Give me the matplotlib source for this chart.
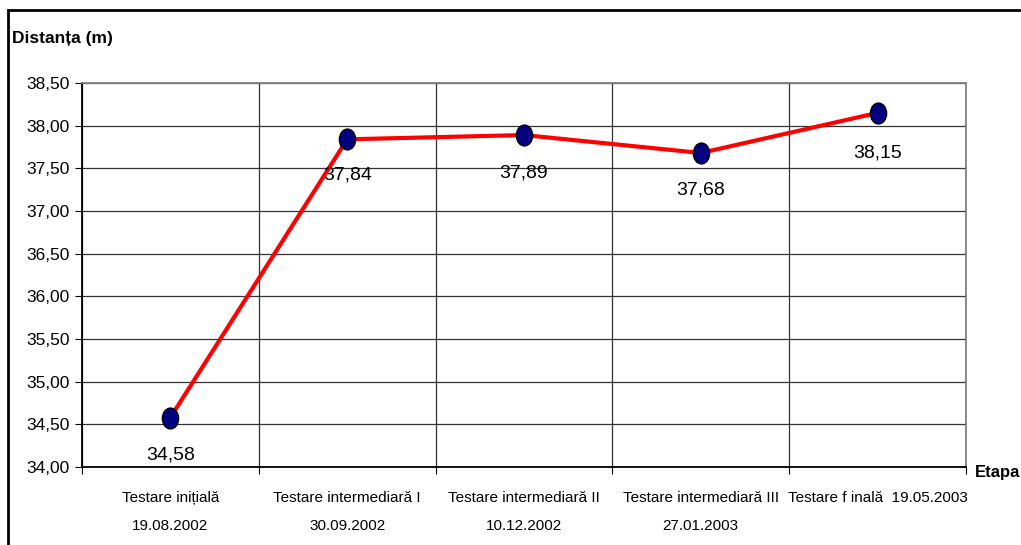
import matplotlib.pyplot as plt
from matplotlib.patches import Rectangle
from matplotlib.path import Path
from matplotlib.ticker import FixedLocator, NullFormatter

plt.rcParams['font.family'] = ['Liberation Sans', 'DejaVu Sans']

# data
stages = ["Testare inițială\n19.08.2002",
          "Testare intermediară I\n30.09.2002",
          "Testare intermediară II\n10.12.2002",
          "Testare intermediară III\n27.01.2003",
          "Testare f inală  19.05.2003"]
distance = [34.58, 37.84, 37.89, 37.68, 38.15]
value_labels = ["34,58", "37,84", "37,89", "37,68", "38,15"]
yticks = [34.0, 34.5, 35.0, 35.5, 36.0, 36.5, 37.0, 37.5, 38.0, 38.5]

W, H = 1021, 545
fig = plt.figure(figsize=(W / 100, H / 100), dpi=100)
ax = fig.add_axes([82 / W, 1 - 467 / H, (966 - 82) / W, (467 - 83) / H])

# outer chart frame
fig.patches.append(Rectangle((8 / W, -0.1), 1.2, 1 - 10 / H + 0.1,
                             transform=fig.transFigure, fill=False,
                             edgecolor="black", linewidth=2))

# slightly tall ellipse marker like the original
uc = Path.unit_circle()
ellipse = Path(uc.vertices * [0.78, 1.0], uc.codes)

x = list(range(len(stages)))
ax.plot(x, distance, color="red", linewidth=3, zorder=3)
ax.plot(x, distance, linestyle="none", marker=ellipse, markersize=15,
        markerfacecolor="#000080", markeredgecolor="black",
        markeredgewidth=1, zorder=4)

# value labels under the points
drops = [27, 26, 27, 27, 29]
for xi, yi, lab, d in zip(x, distance, value_labels, drops):
    ax.annotate(lab, (xi, yi), xytext=(0, -d),
                textcoords="offset points", ha="center", va="center",
                fontsize=14)

ax.set_xlim(-0.5, len(stages) - 0.5)
ax.set_ylim(34.0, 38.5)
ax.set_yticks(yticks)
ax.set_yticklabels([f"{v:.2f}".replace(".", ",") for v in yticks], fontsize=12.5)

# category separators as major ticks, labels at centres
ax.xaxis.set_major_locator(FixedLocator([i - 0.5 for i in range(len(stages) + 1)]))
ax.xaxis.set_major_formatter(NullFormatter())
ax.set_xticks(x, minor=True)
ax.set_xticklabels(stages, minor=True, fontsize=11, linespacing=2.3)
ax.tick_params(axis="x", which="minor", length=0, pad=17)
ax.tick_params(axis="x", which="major", length=5, color="black")
ax.tick_params(axis="y", length=5, color="black", pad=4)

ax.grid(axis="y", color="#333333", linewidth=0.9)
ax.grid(axis="x", which="major", color="#333333", linewidth=0.9)
ax.set_axisbelow(True)

ax.spines["left"].set_color("black")
ax.spines["bottom"].set_color("black")
ax.spines["top"].set_color("#808080")
ax.spines["right"].set_color("#808080")
for s in ax.spines.values():
    s.set_linewidth(1.3)

fig.text(12 / W, 1 - 38 / H, "Distanța (m)", fontsize=12.5, fontweight="bold",
         va="center", ha="left")
fig.text(975 / W, 1 - 472 / H, "Etapa", fontsize=12, fontweight="bold",
         va="center", ha="left")

fig.savefig("out.png", dpi=100)
